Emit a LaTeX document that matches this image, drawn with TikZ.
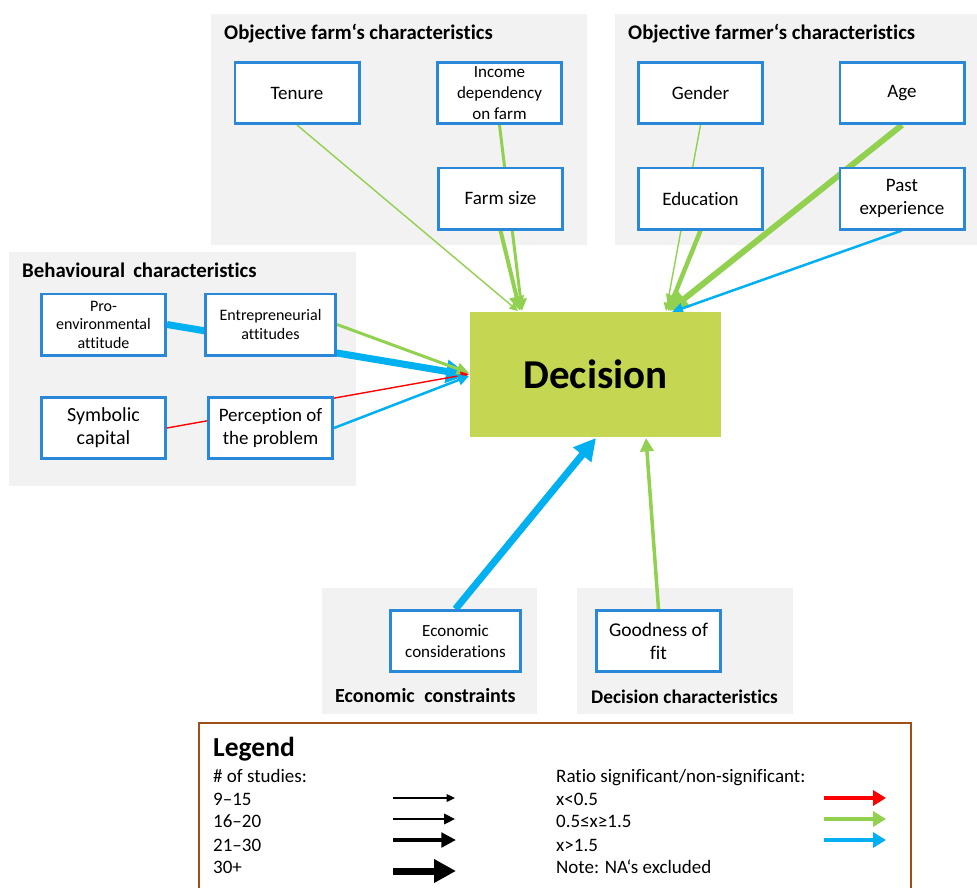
\documentclass[tikz,border=0pt]{standalone}
\usepackage{fontspec}
\setmainfont{Carlito}[Ligatures=NoCommon]
\usetikzlibrary{arrows.meta}
\definecolor{cgreen}{RGB}{146,208,80}
\definecolor{cblue}{RGB}{0,176,240}
\definecolor{cred}{RGB}{255,0,0}
\definecolor{boxblue}{RGB}{41,137,216}
\definecolor{decfill}{RGB}{196,214,82}
\definecolor{panelgray}{RGB}{242,242,242}
\definecolor{legbrown}{RGB}{158,80,22}
\pgfdeclarelayer{panel}
\pgfdeclarelayer{arr}
\pgfsetlayers{panel,arr,main}
\newcommand\fsz[2]{\fontsize{#1}{#2}\selectfont}
\tikzset{
  cbox/.style={draw=boxblue, line width=2.8pt, fill=white, minimum width=124.2pt,
    minimum height=61.2pt, inner sep=1pt, align=center},
  ttl/.style={anchor=base west, inner sep=0pt, font=\fsz{20.8}{25}\bfseries},
  ttlsm/.style={anchor=base west, inner sep=0pt, font=\fsz{19.3}{23}\bfseries},
  conn/.style={line width=#1, -{Triangle[length=5pt 2.4, width=4pt 2.6]}},
  legtxt/.style={anchor=base west, inner sep=0pt, font=\fsz{19}{23}},
}
\begin{document}
\begin{tikzpicture}[x=1pt,y=-1pt]
\useasboundingbox (0,0) rectangle (977,888);
% panels
\begin{pgfonlayer}{panel}
  \fill[panelgray] (211,14) rectangle (587,245);
  \fill[panelgray] (615,14) rectangle (977,245);
  \fill[panelgray] (9,252) rectangle (356,486);
  \fill[panelgray] (322,588) rectangle (537,714);
  \fill[panelgray] (577,588) rectangle (793,714);
\end{pgfonlayer}
% titles
\node[ttl] (t1) at (224,40) {Objective farm‘s characteristics};
\node[ttl] (t2) at (628,40) {Objective farmer‘s characteristics};
\node[ttl] (t3) at (22,277) {Behavioural\, characteristics};
\node[ttlsm, font=\fsz{20}{24}\bfseries] (t4) at (335,702) {Economic\hspace{5pt} constraints};
\node[ttlsm] (t5) at (591,703) {Decision characteristics};
% decision
\node[fill=decfill, minimum width=251pt, minimum height=125pt, inner sep=0pt,
  font=\fsz{41}{49}\bfseries] (dec) at (595.5,374.5) {Decision};
% boxes
\node[cbox, font=\fsz{19}{23}] (ten) at (297,93) {Tenure};
\node[cbox, font=\fsz{17}{21}] (inc) at (499.5,93) {Income\\dependency\\on farm};
\node[cbox, font=\fsz{19}{23}] (fsz) at (500.5,198.5) {Farm size};
\node[cbox, font=\fsz{19}{23}] (gen) at (700.5,93) {Gender};
\node[cbox, font=\fsz{19}{23}] (age) at (902,93) {Age};
\node[cbox, font=\fsz{19}{23}] (edu) at (700.5,198.5) {Education};
\node[cbox, font=\fsz{19}{23}] (past) at (902,198.5) {Past\\experience};
\node[cbox, font=\fsz{16}{18.5}] (pro) at (103.5,324.5) {Pro-\\environmental\\attitude};
\node[cbox, font=\fsz{16}{19}, minimum width=130.2pt] (ent) at (270.5,324.5) {Entrepreneurial\\attitudes};
\node[cbox, font=\fsz{20}{23}] (sym) at (103.5,428) {Symbolic\\capital};
\node[cbox, font=\fsz{19}{23}] (per) at (270.5,428) {Perception of\\the problem};
\node[cbox, font=\fsz{17}{21}, minimum width=130.2pt] (eco) at (455.5,641) {Economic\\considerations};
\node[cbox, font=\fsz{19.5}{23}] (good) at (658.5,641) {Goodness of\\fit};
% arrow end points on decision
\coordinate (dA1) at (518,311);
\coordinate (dA2) at (522,311);
\coordinate (dA3) at (520,311);
\coordinate (dB1) at (666,311);
\coordinate (dB2) at (668,311);
\coordinate (dB3) at (669,311);
\coordinate (dB4) at (672,312);
\coordinate (dC1) at (469,373);
\coordinate (dC2) at (468,375);
\coordinate (dC3) at (469,374);
\coordinate (dC4) at (469,376);
\coordinate (dD1) at (596,438);
\coordinate (dD2) at (646,438);
\begin{pgfonlayer}{arr}
  \draw[conn=1.4, cgreen] (ten.south) -- (dA1);
  \draw[conn=3, cgreen] (inc.south) -- (dA2);
  \draw[conn=4, cgreen] (fsz.south) -- (dA3);
  \draw[conn=1.4, cgreen] (gen.south) -- (dB1);
  \draw[conn=4.5, cgreen] (edu.south) -- (dB2);
  \draw[conn=6, cgreen] (age.south) -- (dB3);
  \draw[conn=2.5, cblue] (past.south) -- (dB4);
  \draw[conn=7, cblue] (pro.east) -- (dC2);
  \draw[conn=3, cgreen] (ent.east) -- (dC1);
  \draw[conn=1.4, cred] (sym.east) -- (dC3);
  \draw[conn=2.5, cblue] (per.east) -- (dC4);
  \draw[conn=7, cblue] (eco.north) -- (dD1);
  \draw[conn=3.5, cgreen] (good.north) -- (dD2);
\end{pgfonlayer}
% legend
\draw[legbrown, line width=2.5pt] (199,892) -- (199,723) -- (911,723) -- (911,892);
\node[anchor=base west, inner sep=0pt, font=\fsz{27.5}{32}\bfseries] (lg) at (213,756) {Legend};
\node[legtxt] (l1) at (213,782) {\# of studies:};
\node[legtxt] (l2) at (213,805) {9–15};
\node[legtxt] (l3) at (213,827) {16–20};
\node[legtxt] (l4) at (213,851) {21–30};
\node[legtxt] (l5) at (213,873) {30+};
\node[legtxt] (r1) at (556,782) {Ratio significant/non-significant:};
\node[legtxt] (r2) at (556,805) {x<0.5};
\node[legtxt] (r3) at (556,827) {0.5≤x≥1.5};
\node[legtxt] (r4) at (556,851) {x>1.5};
\node[legtxt] (r5) at (556,873) {Note: NA‘s excluded};
\coordinate (a1s) at (393,798); \coordinate (a1e) at (455,798);
\coordinate (a2s) at (393,819); \coordinate (a2e) at (455,819);
\coordinate (a3s) at (393,840); \coordinate (a3e) at (456,840);
\coordinate (a4s) at (393,871); \coordinate (a4e) at (456,871);
\draw[conn=1.4, black] (a1s) -- (a1e);
\draw[conn=2.4, black] (a2s) -- (a2e);
\draw[conn=4, black] (a3s) -- (a3e);
\draw[conn=7, black] (a4s) -- (a4e);
\tikzset{legc/.style={line width=4.5pt, -{Triangle[length=13pt, width=15pt]}}}
\coordinate (c1s) at (824,798); \coordinate (c1e) at (886,798);
\coordinate (c2s) at (824,819); \coordinate (c2e) at (886,819);
\coordinate (c3s) at (824,840); \coordinate (c3e) at (886,840);
\draw[legc, cred] (c1s) -- (c1e);
\draw[legc, cgreen] (c2s) -- (c2e);
\draw[legc, cblue] (c3s) -- (c3e);
\end{tikzpicture}
\end{document}
